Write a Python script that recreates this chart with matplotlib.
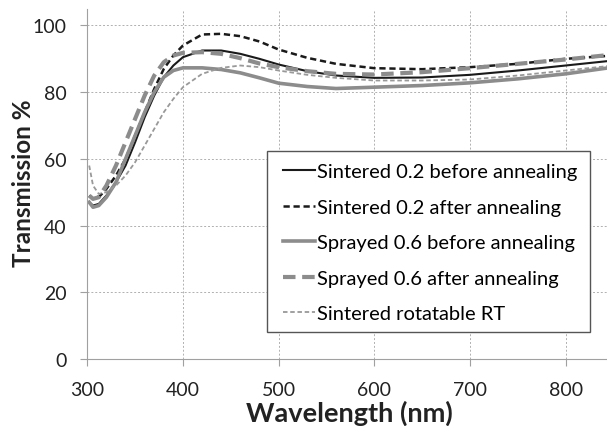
import matplotlib.pyplot as plt
import numpy as np
from matplotlib.patches import Rectangle

# wavelength (nm) sample points
wl = [302, 306, 312, 320, 330, 340, 350, 360, 370, 380, 390, 400, 420, 440,
      460, 480, 500, 530, 560, 600, 650, 700, 750, 800, 850]

sint_before = [47, 46, 46.5, 49, 53, 58, 65, 72.5, 79, 84.5, 88, 90.5, 92.5,
               92.5, 91.5, 90, 88.3, 86.3, 85, 84.3, 84.4, 85.2, 86.5, 88, 89.5]
sint_after = [49, 48, 48.5, 51, 55, 60, 67, 74, 81, 87, 91, 94, 97.3, 97.5,
              96.8, 95.2, 92.8, 90.3, 88.5, 87.2, 86.9, 87.5, 88.5, 90, 91]
spray_before = [47, 45.5, 46, 48.5, 53, 60, 67, 74, 80, 84.5, 86.5, 87.3, 87.3,
                86.8, 85.8, 84.3, 82.7, 81.7, 81.1, 81.5, 82, 82.8, 84, 85.5, 87.5]
spray_after = [49, 48, 48.5, 52, 58, 65, 72, 79, 85, 89, 91, 91.8, 92, 91.5,
               90.2, 88.6, 87.5, 86.3, 85.5, 85.3, 86, 87.2, 88.5, 89.8, 91.3]
rot_rt = [58, 52, 49.5, 50, 52, 55, 59, 64, 69, 74, 78, 81.5, 85.5, 87.3,
          88, 87.5, 86.5, 85.2, 84.3, 83.5, 83.5, 83.8, 85, 86.5, 88]

labels = ["Sintered 0.2 before annealing", "Sintered 0.2 after annealing",
          "Sprayed 0.6 before annealing", "Sprayed 0.6 after annealing",
          "Sintered rotatable RT"]

plt.rcParams['font.family'] = ['Lato', 'DejaVu Sans']

fig = plt.figure(figsize=(6.07, 4.27), dpi=100)
ax = fig.add_axes([0.1438, 0.157, 0.862, 0.82])

ax.plot(wl, sint_before, color='#1a1a1a', lw=1.5, label=labels[0])
ax.plot(wl, sint_after, color='#1a1a1a', lw=1.8, dashes=(2.5, 1.5), label=labels[1])
ax.plot(wl, spray_before, color='#8c8c8c', lw=2.6, label=labels[2])
ax.plot(wl, spray_after, color='#8c8c8c', lw=3.0, dashes=(3, 1.6), label=labels[3])
ax.plot(wl, rot_rt, color='#999999', lw=1.3, dashes=(2.5, 1.5), label=labels[4])

ax.set_xlim(300, 847)
ax.set_ylim(0, 105)
ax.set_xticks([300, 400, 500, 600, 700, 800])
ax.set_yticks([0, 20, 40, 60, 80, 100])
ax.grid(True, color='#b0b0b0', linestyle=(0, (2, 2)), linewidth=0.7)
ax.set_axisbelow(True)

for s in ['top', 'right']:
    ax.spines[s].set_visible(False)
for s in ['left', 'bottom']:
    ax.spines[s].set_color('#a0a0a0')
ax.tick_params(colors='#a0a0a0', labelcolor='#222222', labelsize=14, length=5)
ax.tick_params(axis='y', pad=10)
ax.tick_params(axis='x', pad=11)

ax.set_xlabel("Wavelength (nm)", fontsize=19.5, fontweight='bold', color='#222222', labelpad=1)
ax.set_ylabel("Transmission %", fontsize=17.5, fontweight='bold', color='#222222')
ax.yaxis.set_label_coords(-0.1, 0.505)

# legend box drawn separately so its padding can match the original
ax.add_patch(Rectangle((0.3435, 0.0782), 0.6174, 0.5163, transform=ax.transAxes,
                       facecolor='white', edgecolor='#555555', lw=1.0, zorder=4))
leg = ax.legend(loc='upper left', bbox_to_anchor=(0.374, 0.560), fontsize=14.5,
                frameon=False, handlelength=1.6, handletextpad=0.1,
                labelspacing=0.92, borderpad=0, borderaxespad=0)
leg.set_zorder(5)

fig.savefig("out.png", dpi=100)
